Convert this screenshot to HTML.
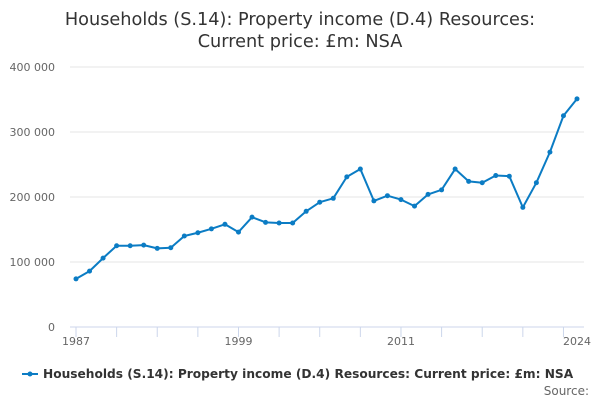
<!DOCTYPE html>
<html><head><meta charset="utf-8"><style>
body{margin:0;background:#fff;font-family:"Liberation Sans","DejaVu Sans",sans-serif}
svg text{font-family:"DejaVu Sans","Liberation Sans",sans-serif}
</style></head><body>
<svg id="c" width="600" height="400">
<text x="300" y="25" text-anchor="middle" font-size="17.7" fill="#333">Households (S.14): Property income (D.4) Resources:</text>
<text x="300" y="47" text-anchor="middle" font-size="17.7" fill="#333">Current price: £m: NSA</text>
<g id="grid"></g><g id="xt"></g><g id="plot"></g>
<g>
<line x1="22" y1="374" x2="38" y2="374" stroke="#0b7cc4" stroke-width="2"/>
<circle cx="30" cy="374" r="2.5" fill="#0b7cc4"/>
<text x="43" y="378" font-size="12.2" font-weight="bold" fill="#333">Households (S.14): Property income (D.4) Resources: Current price: £m: NSA</text>
</g>
<text x="589" y="395" text-anchor="end" font-size="12" fill="#666">Source:</text>
</svg>
<script>
const years=[1987,1988,1989,1990,1991,1992,1993,1994,1995,1996,1997,1998,1999,2000,2001,2002,2003,2004,2005,2006,2007,2008,2009,2010,2011,2012,2013,2014,2015,2016,2017,2018,2019,2020,2021,2022,2023,2024];
const values=[74,86,106,125,125,126,121,122,140,145,151,158,146,169,161,160,160,178,192,198,231,243,194,202,196,186,204,211,243,224,222,233,232,184,222,269,325,351];
const yTicks=[0,100,200,300,400];
const yTickLabels=["0","100 000","200 000","300 000","400 000"];
const xTickLabels=[1987,1999,2011,2024];
const NS="http://www.w3.org/2000/svg";
const x0=76,x1=577,y0=327,yTop=67;
const X=yr=>x0+(yr-years[0])/(years[years.length-1]-years[0])*(x1-x0);
const Y=v=>y0-v/400*(y0-yTop);
function mk(t,a,p){const e=document.createElementNS(NS,t);for(const k in a)e.setAttribute(k,a[k]);p.appendChild(e);return e;}
const grid=document.getElementById('grid'),xt=document.getElementById('xt'),plot=document.getElementById('plot');
yTicks.forEach((v,i)=>{
 const l=mk('line',{x1:70,x2:584,y1:Y(v),y2:Y(v),stroke:v===0?'#ccd6eb':'#e6e6e6'},grid);
 
 
 const t=mk('text',{x:55,y:Y(v)+4,'text-anchor':'end','font-size':11,fill:'#666'},grid);
 t.textContent=yTickLabels[i];
 
 
});
for(let yr=1987;yr<=2024;yr+=3){
 const l=mk('line',{x1:X(yr),x2:X(yr),y1:y0,y2:y0+10,stroke:'#ccd6eb'},xt);
 
 
}
xTickLabels.forEach(yr=>{
 const t=mk('text',{x:X(yr),y:345,'text-anchor':'middle','font-size':11,fill:'#666'},xt);
 t.textContent=yr;
 
 
});
const pl=mk('polyline',{points:years.map((yr,i)=>X(yr)+','+Y(values[i])).join(' '),fill:'none',stroke:'#0b7cc4','stroke-width':2,'stroke-linejoin':'round'},plot);


years.forEach((yr,i)=>{
 const c=mk('circle',{cx:X(yr),cy:Y(values[i]),r:2.5,fill:'#0b7cc4'},plot);
 
 
});
</script>
</body></html>
